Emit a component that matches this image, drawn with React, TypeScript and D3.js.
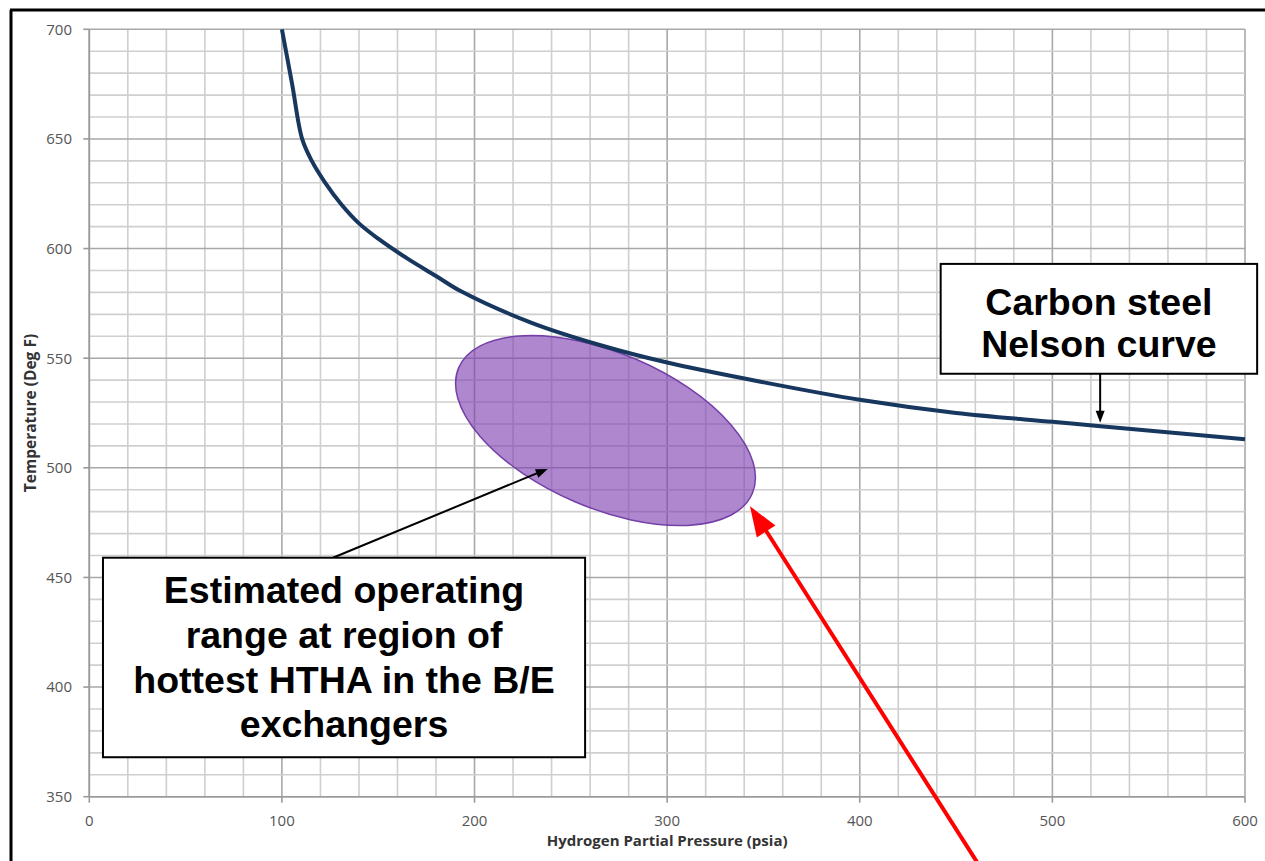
import React from "react";
import * as d3 from "d3";

// Nelson curve (carbon steel)
const pressure = [100, 105.3, 110.5, 115.5, 122.5, 131, 140, 150, 165, 180, 193, 230, 265, 300, 350, 400, 450, 500, 525, 600];
const temperature = [700, 675, 650, 640, 630, 620, 611.5, 604.5, 595.5, 587.5, 580.5, 566, 556, 548, 539, 531, 525, 521, 519, 513];

const xTicks = [0, 100, 200, 300, 400, 500, 600];
const yTicks = [350, 400, 450, 500, 550, 600, 650, 700];
const xMinor = d3.range(0, 601, 20);
const yMinor = d3.range(350, 701, 10);

// operating range ellipse (centre in data units)
const ellipseCenter = [268, 517];

const W = 1265;
const H = 861;

export default function App() {
  const x = d3.scaleLinear().domain([0, 600]).range([89.3, 1245]);
  const y = d3.scaleLinear().domain([350, 700]).range([796.7, 29.3]);

  const line = d3
    .line<number>()
    .x((_, i) => x(pressure[i]))
    .y((d) => y(d))
    .curve(d3.curveCatmullRom.alpha(0.5));

  const curvePath = line(temperature) || "";

  const cx = x(ellipseCenter[0]);
  const cy = y(ellipseCenter[1]);

  const arrowHead = (x1: number, y1: number, x2: number, y2: number, len: number, wid: number) => {
    const ang = Math.atan2(y2 - y1, x2 - x1);
    const bx = x2 - len * Math.cos(ang);
    const by = y2 - len * Math.sin(ang);
    const px = -Math.sin(ang) * (wid / 2);
    const py = Math.cos(ang) * (wid / 2);
    return `M${x2},${y2}L${bx + px},${by + py}L${bx - px},${by - py}Z`;
  };

  // annotation anchors (data units)
  const b1 = { x0: x(442), y0: y(593), x1: x(606.3), y1: y(542.9) };
  const b2 = { x0: x(7.1), y0: y(459), x1: x(257.4), y1: y(368) };
  const a1 = { x1: x(126.5), y1: y(459), x2: x(238), y2: y(499.5) };
  const a2 = { x1: x(524.8), y1: y(543), x2: x(524.8), y2: y(520.6) };
  const red = { x1: x(461), y1: y(320), x2: x(343), y2: y(482.5) };

  const tickFont = "'Open Sans', 'DejaVu Sans', sans-serif";
  const boxFont = "'Liberation Sans', Arial, sans-serif";

  return (
    <svg
      width={W}
      height={H}
      style={{ position: "absolute", left: 0, top: 0, background: "#fff" }}
    >
      <rect x={0} y={0} width={W} height={H} fill="#fff" />
      {xMinor.map((v) => (
        <line key={"xm" + v} x1={x(v)} x2={x(v)} y1={y(700)} y2={y(350)} stroke={v % 100 === 0 ? "#a8a8a8" : "#cfcfcf"} strokeWidth={1.6} />
      ))}
      {yMinor.map((v) => (
        <line key={"ym" + v} x1={x(0)} x2={x(600)} y1={y(v)} y2={y(v)} stroke={v % 50 === 0 ? "#a8a8a8" : "#cfcfcf"} strokeWidth={1.6} />
      ))}
      <line x1={x(0)} x2={x(600)} y1={y(350)} y2={y(350)} stroke="#9a9a9a" strokeWidth={1.6} />
      <line x1={x(0)} x2={x(0)} y1={y(700)} y2={y(350)} stroke="#9a9a9a" strokeWidth={1.6} />
      {yTicks.map((v) => (
        <g key={"yt" + v}>
          <line x1={x(0) - 6} x2={x(0)} y1={y(v)} y2={y(v)} stroke="#9a9a9a" strokeWidth={1.6} />
          <text x={72} y={y(v)} dy="0.36em" textAnchor="end" fontFamily={tickFont} fontSize={15} fill="#555">
            {v}
          </text>
        </g>
      ))}
      {xTicks.map((v) => (
        <g key={"xt" + v}>
          <line x1={x(v)} x2={x(v)} y1={y(350)} y2={y(350) + 6} stroke="#9a9a9a" strokeWidth={1.6} />
          <text x={x(v)} y={826} textAnchor="middle" fontFamily={tickFont} fontSize={15} fill="#555">
            {v}
          </text>
        </g>
      ))}
      <text x={(x(0) + x(600)) / 2} y={846} textAnchor="middle" fontFamily={tickFont} fontWeight="bold" fontSize={15} fill="#333">
        Hydrogen Partial Pressure (psia)
      </text>
      <text
        transform={`translate(36,${(y(350) + y(700)) / 2}) rotate(-90)`}
        textAnchor="middle"
        fontFamily={tickFont}
        fontWeight="bold"
        fontSize={15.5}
        fill="#333"
      >
        Temperature (Deg F)
      </text>

      <ellipse
        cx={cx}
        cy={cy}
        rx={159.7}
        ry={77.5}
        transform={`rotate(23.2,${cx},${cy})`}
        fill="rgba(124,62,178,0.62)"
        stroke="#7440a8"
        strokeWidth={1.5}
      />

      <path d={curvePath} fill="none" stroke="#17375e" strokeWidth={4} strokeLinejoin="round" />

      <rect x={b1.x0} y={b1.y0} width={b1.x1 - b1.x0} height={b1.y1 - b1.y0} fill="#fff" stroke="#000" strokeWidth={2} />
      <text textAnchor="middle" fontFamily={boxFont} fontWeight="bold" fontSize={37.5} fill="#000">
        <tspan x={(b1.x0 + b1.x1) / 2} y={b1.y0 + 51}>Carbon steel</tspan>
        <tspan x={(b1.x0 + b1.x1) / 2} y={b1.y0 + 93}>Nelson curve</tspan>
      </text>
      <line x1={a2.x1} y1={a2.y1} x2={a2.x2} y2={a2.y2 - 6} stroke="#000" strokeWidth={2} />
      <path d={arrowHead(a2.x1, a2.y1, a2.x2, a2.y2, 12, 9)} fill="#000" />

      <line x1={a1.x1} y1={a1.y1} x2={a1.x2 - 5} y2={a1.y2 + 2} stroke="#000" strokeWidth={2} />
      <path d={arrowHead(a1.x1, a1.y1, a1.x2, a1.y2, 12, 9)} fill="#000" />
      <rect x={b2.x0} y={b2.y0} width={b2.x1 - b2.x0} height={b2.y1 - b2.y0} fill="#fff" stroke="#000" strokeWidth={2} />
      <text textAnchor="middle" fontFamily={boxFont} fontWeight="bold" fontSize={37.5} fill="#000">
        <tspan x={(b2.x0 + b2.x1) / 2} y={b2.y0 + 45}>Estimated operating</tspan>
        <tspan x={(b2.x0 + b2.x1) / 2} y={b2.y0 + 90}>range at region of</tspan>
        <tspan x={(b2.x0 + b2.x1) / 2} y={b2.y0 + 135}>hottest HTHA in the B/E</tspan>
        <tspan x={(b2.x0 + b2.x1) / 2} y={b2.y0 + 179}>exchangers</tspan>
      </text>

      <line x1={red.x1} y1={red.y1} x2={red.x2 + 10} y2={red.y2 + 15} stroke="#ff0000" strokeWidth={4} />
      <path d={arrowHead(red.x1, red.y1, red.x2, red.y2, 30, 22)} fill="#ff0000" />

      <line x1={10} x2={W} y1={10} y2={10} stroke="#000" strokeWidth={3} />
      <line x1={11} x2={11} y1={10} y2={H} stroke="#000" strokeWidth={3} />
    </svg>
  );
}
